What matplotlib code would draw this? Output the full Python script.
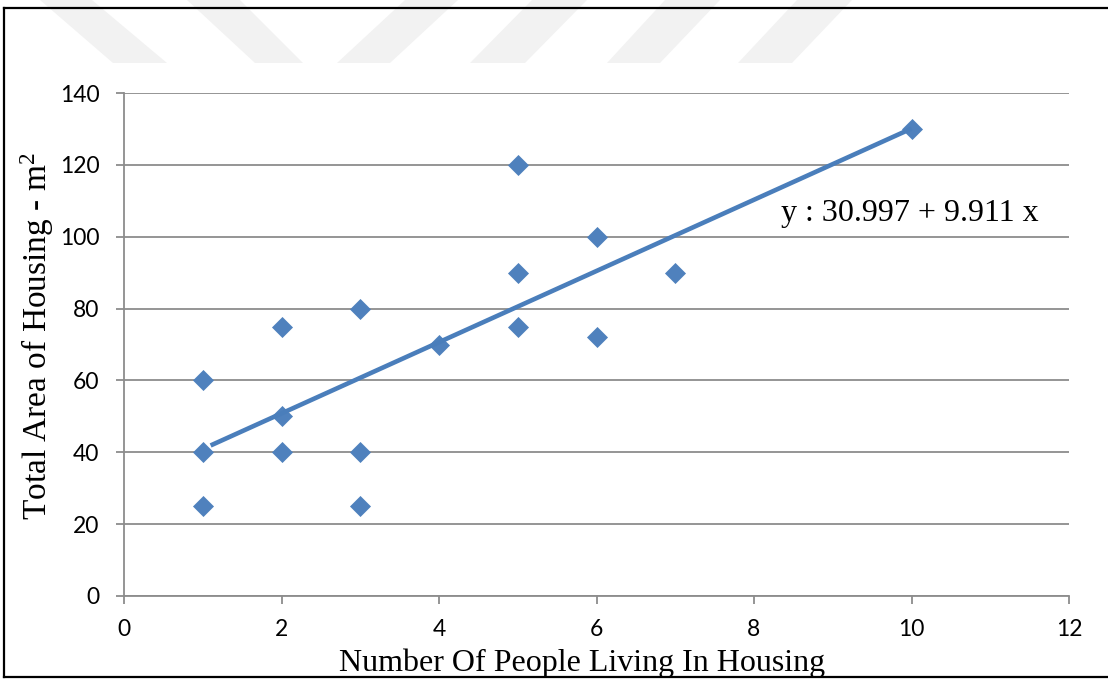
import matplotlib
matplotlib.use("Agg")
import matplotlib.pyplot as plt
from matplotlib.patches import Polygon
from matplotlib.lines import Line2D
import numpy as np

# ---- data ----
people = [1, 1, 1, 2, 2, 2, 3, 3, 3, 4, 5, 5, 5, 6, 6, 7, 10]
area = [60, 40, 25, 75, 50, 40, 80, 40, 25, 70, 120, 90, 75, 100, 72, 90, 130]
intercept = 30.997
slope = 9.911
trend_x = [1.1, 10]
x_ticks = [0, 2, 4, 6, 8, 10, 12]
y_ticks = [0, 20, 40, 60, 80, 100, 120, 140]
equation = "y : 30.997 + 9.911 x"
x_label = "Number Of People Living In Housing"
y_label = "Total Area of Housing - m$^{2}$"

W, H = 1108, 679
plt.rcParams['mathtext.fontset'] = 'custom'
plt.rcParams['mathtext.rm'] = 'Liberation Serif'
plt.rcParams['mathtext.it'] = 'Liberation Serif:italic'

fig = plt.figure(figsize=(W / 100, H / 100), dpi=100)

# background layer in pixel coordinates (watermark + frame)
bg = fig.add_axes([0, 0, 1, 1], zorder=0)
bg.set_xlim(0, W)
bg.set_ylim(H, 0)
bg.axis('off')
wm_top, wm_bot = 0, 63
stripes = [
    [(40, wm_top), (92, wm_top), (167, wm_bot), (113, wm_bot)],
    [(187, wm_top), (240, wm_top), (303, wm_bot), (255, wm_bot)],
    [(405, wm_top), (458, wm_top), (390, wm_bot), (337, wm_bot)],
    [(532, wm_top), (587, wm_top), (525, wm_bot), (470, wm_bot)],
    [(665, wm_top), (720, wm_top), (660, wm_bot), (607, wm_bot)],
    [(797, wm_top), (852, wm_top), (792, wm_bot), (738, wm_bot)],
]
for s in stripes:
    bg.add_patch(Polygon(s, closed=True, facecolor='#f2f2f2', edgecolor='none'))

# main axes
ax = fig.add_axes([124 / W, 1 - 596 / H, (1069 - 124) / W, (596 - 93) / H], zorder=1)
ax.patch.set_alpha(0)
ax.set_xlim(0, 12)
ax.set_ylim(0, 140)
ax.set_xticks(x_ticks)
ax.set_yticks(y_ticks)
grid_c = '#8c8c8c'
ax.yaxis.grid(True, color=grid_c, linewidth=1.3)
ax.set_axisbelow(True)
for side in ['top', 'right']:
    ax.spines[side].set_visible(False)
for side in ['left', 'bottom']:
    ax.spines[side].set_color(grid_c)
    ax.spines[side].set_linewidth(1.3)
ax.tick_params(axis='both', direction='out', length=5.8, width=1.3, color=grid_c,
               labelsize=16.5, labelcolor='black')
ax.tick_params(axis='y', pad=12)
ax.tick_params(axis='x', pad=11)
for lab in ax.get_xticklabels() + ax.get_yticklabels():
    lab.set_fontfamily('Lato')

ax.scatter(people, area, marker='D', s=115, color='#4f81bd', zorder=3, linewidths=0)
tx = np.array(trend_x)
ax.plot(tx, intercept + slope * tx, color='#4a7ebb', linewidth=3.3, zorder=4,
        solid_capstyle='butt')

ax.text(781 / W, 1 - 213 / H, equation, transform=fig.transFigure,
        fontfamily='Liberation Serif', fontsize=23, va='center', ha='left')

fig.text(582 / W, 1 - 663 / H, x_label, fontfamily='Liberation Serif', fontsize=23,
         ha='center', va='center')
fig.text(37 / W, 1 - 336 / H, y_label, fontfamily='Liberation Serif', fontsize=24,
         rotation=90, ha='center', va='center')

# frame
frame_kw = dict(color='black', linewidth=1.6, transform=fig.transFigure, zorder=10)
fig.add_artist(Line2D([4 / W, 4 / W], [1 - 8 / H, 1 - 677 / H], **frame_kw))
fig.add_artist(Line2D([4 / W, 1.01], [1 - 8 / H, 1 - 8 / H], **frame_kw))
fig.add_artist(Line2D([4 / W, 1.01], [1 - 677 / H, 1 - 677 / H], **frame_kw))

fig.savefig('out.png', dpi=100)
